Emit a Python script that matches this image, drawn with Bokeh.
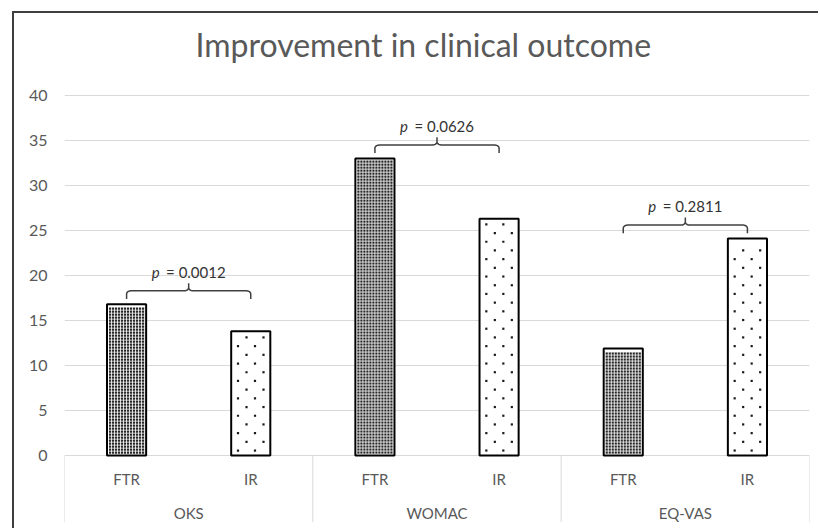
import numpy as np
from bokeh.plotting import figure
from bokeh.models import FactorRange, Range1d, FixedTicker
from bokeh.core.properties import value
from bokeh.embed import file_html
from bokeh.resources import INLINE

# ---- data ----
groups = ["OKS", "WOMAC", "EQ-VAS"]
subgroups = ["FTR", "IR"]
ftr_values = [16.8, 33.0, 11.9]
ir_values = [13.8, 26.3, 24.1]
p_values = ["0.0012", "0.0626", "0.2811"]
y_ticks = [0, 5, 10, 15, 20, 25, 30, 35, 40]
title_text = "Improvement in clinical outcome"

FONT = "Lato"
GRAY = "#595959"
W, H = 818, 528
BL, BR, BT, BB = 64, 9, 68, 6
Y0, Y1 = -7.44, 43.0
BAR_W = 0.315

factors = [(g, s) for g in groups for s in subgroups]
x_range = FactorRange(*factors, factor_padding=0, group_padding=0, range_padding=0)

p = figure(x_range=x_range, y_range=Range1d(Y0, Y1),
           width=W, height=H, output_backend="svg", toolbar_location=None,
           title=title_text, min_border_left=BL, min_border_right=BR,
           min_border_top=BT, min_border_bottom=BB)
# outer chart border (top and left edges), painted behind a transparent canvas border area
p.border_fill_color = None
p.background_fill_color = "white"
p.styles = {
    "background-image": "linear-gradient(#3f3f3f, #3f3f3f), linear-gradient(#3f3f3f, #3f3f3f)",
    "background-size": "100% 2px, 2px 100%",
    "background-position": "12px 11px, 12px 11px",
    "background-repeat": "no-repeat",
}

p.title.align = "left"
p.title.offset = 131
p.title.text_font = FONT
p.title.text_font_size = "32px"
p.title.text_font_style = "normal"
p.title.text_color = GRAY

p.outline_line_color = None
p.xaxis.visible = False
p.xgrid.grid_line_color = None
p.yaxis.ticker = FixedTicker(ticks=y_ticks)
p.yaxis.axis_line_color = None
p.yaxis.major_tick_line_color = None
p.yaxis.minor_tick_line_color = None
p.yaxis.major_tick_out = 0
p.yaxis.major_tick_in = 0
p.yaxis.major_label_text_font = FONT
p.yaxis.major_label_text_font_size = "16px"
p.yaxis.major_label_text_color = GRAY
p.yaxis.major_label_standoff = 17
p.ygrid.grid_line_color = "#d9d9d9"
p.ygrid.grid_line_width = 1

# ---- bars ----
ftr_x = [(g, "FTR") for g in groups]
ir_x = [(g, "IR") for g in groups]
p.vbar(x=ftr_x, top=ftr_values, width=BAR_W, fill_color="white",
       line_color="black", line_width=2)
p.vbar(x=ir_x, top=ir_values, width=BAR_W, fill_color="white",
       line_color="black", line_width=2)

# ---- stipple textures inside the bars (derived from the bar values) ----
ux = len(factors) / (W - BL - BR)      # x units per pixel
uy = (Y1 - Y0) / (H - BT - BB)         # y units per pixel
n_sub = len(subgroups)

def stipple(centers, tops, pitch_x, pitch_y, margin, stagger):
    xs, ys = [], []
    hw = BAR_W / ux / 2
    ncol = int((2 * hw - 2 * margin) // pitch_x) + 1
    cols = (np.arange(ncol) - (ncol - 1) / 2) * pitch_x
    for c, t in zip(centers, tops):
        rows = np.arange(margin, t / uy - margin, pitch_y)
        for k, ry in enumerate(rows):
            for j, cx in enumerate(cols):
                if stagger and (j + k) % 2:
                    continue
                xs.append(c + cx * ux)
                ys.append(ry * uy)
    return xs, ys

ftr_c = [i * n_sub + 0.5 for i in range(len(groups))]
ir_c = [i * n_sub + 1.5 for i in range(len(groups))]
fx, fy = stipple(ftr_c, ftr_values, 3.0, 3.0, 3.0, False)
p.scatter(fx, fy, marker="square", size=2.2, fill_color="#262626", line_color=None)
ix, iy = stipple(ir_c, ir_values, 8.5, 8.7, 5.0, True)
p.scatter(ix, iy, marker="square", size=2.2, fill_color="#1a1a1a", line_color=None)

# ---- category axis (Excel style, drawn inside the frame) ----
bounds = [i * n_sub for i in range(len(groups) + 1)]
p.segment(x0=bounds, y0=[0] * len(bounds), x1=bounds, y1=[Y0] * len(bounds),
          line_color="#d9d9d9", line_width=1)
p.text(x=factors, y=[-2.6] * len(factors), text=[s for g, s in factors],
       text_align="center", text_baseline="middle", text_font=value(FONT),
       text_font_size="15px", text_color=GRAY)
p.text(x=groups, y=[-6.35] * len(groups), text=groups,
       text_align="center", text_baseline="middle", text_font=value(FONT),
       text_font_size="15px", text_color=GRAY)

# ---- significance brackets ----
def arc(cx, cy, rx, ry, a0, a1, n=6):
    t = np.linspace(np.radians(a0), np.radians(a1), n)
    return list(cx + rx * np.cos(t)), list(cy + ry * np.sin(t))

xs_all, ys_all, xc_all, yt_all = [], [], [], []
rx, ry, drop, rise = 0.035, 0.35, 0.9, 0.85
for i, (a, b) in enumerate(zip(ftr_values, ir_values)):
    xl, xr, xc = i * n_sub + 0.5, i * n_sub + 1.5, i * n_sub + 1.0
    yh = max(a, b) + 1.5
    xs, ys = [xl], [yh - drop]
    ax, ay = arc(xl + rx, yh - ry, rx, ry, 180, 90); xs += ax; ys += ay
    ax, ay = arc(xc - rx, yh + ry, rx, ry, 270, 360); xs += ax; ys += ay
    xs.append(xc); ys.append(yh + rise)
    ax, ay = arc(xc + rx, yh + ry, rx, ry, 180, 270); xs += ax; ys += ay
    ax, ay = arc(xr - rx, yh - ry, rx, ry, 90, 0); xs += ax; ys += ay
    xs.append(xr); ys.append(yh - drop)
    xs_all.append(xs); ys_all.append(ys)
    xc_all.append(xc); yt_all.append(yh + 2.1)

p.multi_line(xs=xs_all, ys=ys_all, line_color="#404040", line_width=1.5)
p.text(x=xc_all, y=yt_all, text=["p"] * len(xc_all), x_offset=-37,
       text_align="left", text_baseline="alphabetic", text_font=value(FONT),
       text_font_style="italic", text_font_size="15px", text_color="#333333")
p.text(x=xc_all, y=yt_all, text=["= " + v for v in p_values], x_offset=37,
       text_align="right", text_baseline="alphabetic", text_font=value(FONT),
       text_font_size="15px", text_color="#333333")

open("out.html", "w").write(file_html(p, INLINE))
